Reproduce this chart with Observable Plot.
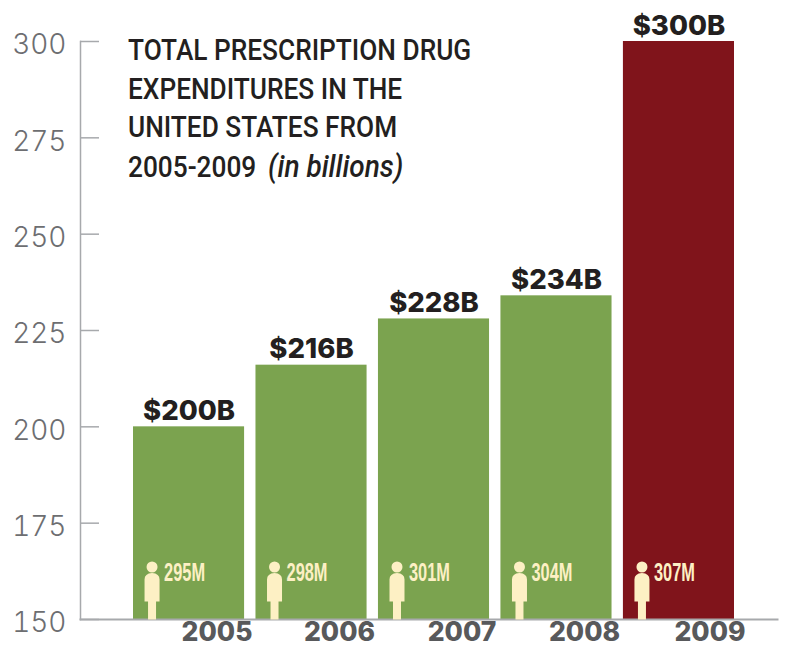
<!DOCTYPE html>
<html>
<head>
<meta charset="utf-8">
<script src="https://cdn.jsdelivr.net/npm/d3@7"></script>
<script src="https://cdn.jsdelivr.net/npm/@observablehq/plot@0.6"></script>
<style>
  html, body { margin: 0; padding: 0; background: #fff; }
  #chart { position: relative; width: 791px; height: 648px; overflow: hidden; }
  #chart svg { display: block; background: #fff; }
  #title {
    position: absolute; left: 128px; top: 31px; margin: 0;
    font: 500 30px/38.5px Roboto, sans-serif;
    color: #231f20; white-space: nowrap;
    transform: scaleX(0.875); transform-origin: left top;
  }
  #title i { font-weight: 500; font-size: 32px; margin-left: 6px; }
</style>
</head>
<body>
<div id="chart"><h1 id="title">TOTAL PRESCRIPTION DRUG<br>EXPENDITURES IN THE<br>UNITED STATES FROM<br>2005-2009 <i>(in billions)</i></h1></div>
<script>
const years = ["2005", "2006", "2007", "2008", "2009"];
const spending = [200, 216, 228, 234, 300];
const population = [295, 298, 301, 304, 307];
const yTicks = [150, 175, 200, 225, 250, 275, 300];
const highlightYear = "2009";

const GREEN = "#7ba34f", RED = "#80141b", CREAM = "#fdf0c4";
const AXIS = "#a7a9ac", TICK_TEXT = "#6d6e71", YEAR_TEXT = "#58595b", VALUE_TEXT = "#231f20";
const HEAVY = "Inter, sans-serif";

const rows = years.map((year, i) => ({year, spend: spending[i], people: population[i]}));

// Standing figure with its feet on the origin, drawn upward.
const person = {
  draw(ctx) {
    ctx.moveTo(5.5, -52.5);
    ctx.arc(0, -52.5, 5.5, 0, 2 * Math.PI);
    ctx.moveTo(-7.5, -40);
    ctx.quadraticCurveTo(-7.5, -46, 0, -46.5);
    ctx.quadraticCurveTo(7.5, -46, 7.5, -40);
    ctx.lineTo(7.5, -18);
    ctx.lineTo(4, -18);
    ctx.lineTo(4, 0);
    ctx.lineTo(-4, 0);
    ctx.lineTo(-4, -18);
    ctx.lineTo(-7.5, -18);
    ctx.closePath();
  }
};

const plot = Plot.plot({
  width: 791,
  height: 648,
  marginLeft: 80,
  marginRight: 14,
  marginTop: 41,
  marginBottom: 29,
  style: {background: "#fff"},
  x: {type: "band", domain: years, range: [133, 734], paddingInner: 0.093, paddingOuter: 0, align: 0, round: false},
  y: {domain: [150, 300]},
  marks: [
    Plot.barY(rows, {
      x: "year", y1: 150, y2: "spend",
      fill: d => d.year === highlightYear ? RED : GREEN
    }),
    // Left spine and baseline
    Plot.frame({anchor: "left", stroke: AXIS, strokeWidth: 1.5}),
    Plot.frame({anchor: "bottom", stroke: AXIS, strokeWidth: 2}),
    // Ticks point into the plot
    Plot.axisY({ticks: yTicks, tickSize: -19, stroke: AXIS, strokeWidth: 1.5, text: null, label: null}),
    // Labels sit left of the spine, a little below their ticks
    Plot.axisY({
      ticks: yTicks, tickSize: 0, label: null, tickPadding: 14, dy: 4,
      fontSize: 28, fontWeight: 300, fontFamily: HEAVY, fill: TICK_TEXT
    }),
    // Year labels are set off to the right of their bars
    Plot.axisX({
      ticks: years.slice(0, 4), tickSize: 0, label: null, dx: 28, tickPadding: 3,
      fontSize: 26.5, fontWeight: 800, fontFamily: HEAVY, fill: YEAR_TEXT, lineAnchor: "top"
    }),
    Plot.axisX({
      ticks: [highlightYear], tickSize: 0, label: null, dx: 31, tickPadding: 3,
      fontSize: 26.5, fontWeight: 800, fontFamily: HEAVY, fill: YEAR_TEXT, lineAnchor: "top"
    }),
    // Dollar value over each bar
    Plot.text(rows, {
      x: "year", y: "spend", text: d => `$${d.spend}B`, dy: -7, lineAnchor: "bottom",
      fontSize: 27.5, fontWeight: 800, fontFamily: HEAVY, fill: VALUE_TEXT
    }),
    // Population figure and count inside the foot of each bar
    Plot.dot(rows, {
      x: "year", y: 150, dx: -37, symbol: person, r: 5, fill: CREAM, stroke: "none"
    }),
    Plot.text(rows, {
      x: "year", y: 150, text: d => `${d.people}M`, dx: -25, dy: -47, textAnchor: "start",
      fontSize: 25, fontWeight: 700, fontFamily: "Liberation Sans", fill: CREAM,
      className: "pop-count"
    })
  ]
});

d3.select(plot).selectAll(".pop-count text")
  .attr("textLength", 41)
  .attr("lengthAdjust", "spacingAndGlyphs");

document.getElementById("chart").prepend(plot);
</script>
</body>
</html>
